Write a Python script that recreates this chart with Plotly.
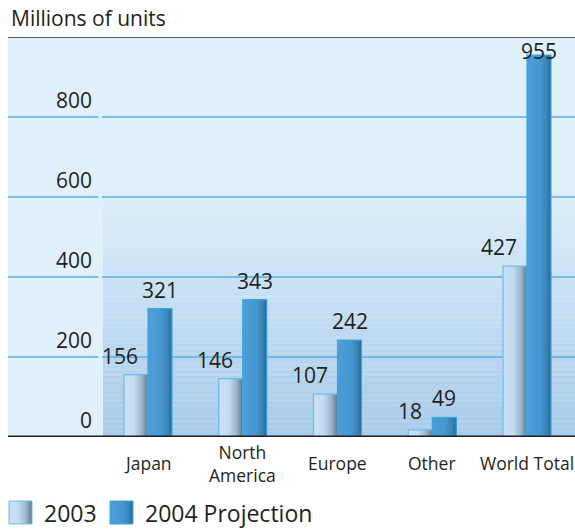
import plotly.graph_objects as go

# ---- data -------------------------------------------------------------
categories = ["Japan", "North<br>America", "Europe", "Other", "World Total"]
units_2003 = [156, 146, 107, 18, 427]
units_2004 = [321, 343, 242, 49, 955]
y_ticks = [0, 200, 400, 600, 800]
series_names = ["2003", "2004 Projection"]

# ---- geometry ---------------------------------------------------------
W, H = 575, 529
ML, MR, MT, MB = 8, 0, 37, 92
PW = W - ML - MR
PH = H - MT - MB
Y_MAX = 1000
STEP = 94.75          # pixels between category centres
X0_PX = 148           # pixel centre of the first category
BAR_W = 24 / STEP     # width of one bar in axis units
x_range = [(ML - X0_PX) / STEP, (W - MR - X0_PX) / STEP]

FONT = "Open Sans"
INK = "#231f20"
BG_LIGHT = (0xe1, 0xf1, 0xfb)
BG_DARK = (0xa8, 0xca, 0xe9)
GRID = "#5aaee3"


def ax_x(px):
    return (px - X0_PX) / STEP


def paper_x(px):
    return (px - ML) / PW


def paper_y(py):
    return (H - MB - py) / PH


def hex2rgb(h):
    h = h.lstrip("#")
    return tuple(int(h[i:i + 2], 16) for i in (0, 2, 4))


def mix(c0, c1, t):
    return tuple(round(a + (b - a) * t) for a, b in zip(c0, c1))


def css(c):
    return "rgb(%d,%d,%d)" % c


def ramp(stops, t):
    for (t0, c0), (t1, c1) in zip(stops, stops[1:]):
        if t <= t1:
            return mix(hex2rgb(c0), hex2rgb(c1), (t - t0) / (t1 - t0) if t1 > t0 else 0)
    return hex2rgb(stops[-1][1])


# horizontal shading of each bar (left -> right)
shade_2003 = [(0.0, "#cde1f4"), (0.42, "#c4dbf0"), (0.75, "#9ab5ca"), (1.0, "#5b7a8f")]
shade_2004 = [(0.0, "#4d9ed8"), (0.55, "#4696cf"), (0.82, "#3a84b7"), (1.0, "#256b93")]
edge_2003 = "#69bdea"
edge_2004 = "#3aa7df"

series = [
    (units_2003, -BAR_W, shade_2003, edge_2003),
    (units_2004, 0.0, shade_2004, edge_2004),
]

fig = go.Figure()
idx = list(range(len(categories)))
K = 24
for vals, off, stops, edge in series:
    for k in range(K):
        s = k / K * BAR_W
        fig.add_trace(go.Bar(
            x=idx, y=vals, offset=off + s, width=BAR_W - s,
            marker=dict(color=css(ramp(stops, (k + 0.5) / K)), line=dict(width=0)),
            showlegend=False, hoverinfo="skip",
        ))
    fig.add_trace(go.Bar(
        x=idx, y=vals, offset=off, width=BAR_W,
        marker=dict(color="rgba(0,0,0,0)", line=dict(color=edge, width=1.2)),
        showlegend=False, hoverinfo="skip",
    ))

shapes = []
# shaded backdrop behind the bars
NB = 50
top_val = 650
grad_x0 = ax_x(103)
for i in range(NB):
    y0 = top_val * i / NB
    y1 = top_val * (i + 1) / NB
    t = 1 - (i + 0.5) / NB
    shapes.append(dict(type="rect", layer="below", xref="x", yref="y",
                       x0=grad_x0, x1=x_range[1], y0=y0, y1=y1,
                       fillcolor=css(mix(BG_LIGHT, BG_DARK, t)), line=dict(width=0)))
# gridlines, broken beside the tick labels
for v in y_ticks[1:]:
    for xa, xb in ((x_range[0], ax_x(98.5)), (ax_x(102), x_range[1])):
        shapes.append(dict(type="line", layer="below", xref="x", yref="y",
                           x0=xa, x1=xb, y0=v, y1=v, line=dict(color=GRID, width=1.5)))
# frame top and baseline
shapes.append(dict(type="line", xref="paper", yref="y", x0=0, x1=1, y0=Y_MAX, y1=Y_MAX,
                   line=dict(color=INK, width=1.5)))
shapes.append(dict(type="line", xref="paper", yref="y", x0=0, x1=1, y0=0, y1=0,
                   line=dict(color=INK, width=3)))

annotations = []
annotations.append(dict(text="Millions of units", xref="paper", yref="paper",
                        x=paper_x(9), y=paper_y(18), xanchor="left", yanchor="middle",
                        showarrow=False, font=dict(family=FONT, size=21, color=INK)))
for v in y_ticks:
    annotations.append(dict(text=str(v), xref="x", yref="y", x=ax_x(94), y=v,
                            xanchor="right", yanchor="bottom", yshift=1, showarrow=False,
                            font=dict(family=FONT, size=21, color=INK)))
for i, c in enumerate(categories):
    annotations.append(dict(text=c, xref="x", yref="paper", x=i, y=paper_y(463),
                            xanchor="center", yanchor="middle", showarrow=False,
                            font=dict(family=FONT, size=17.5, color=INK)))
# value labels
for i, v in enumerate(units_2003):
    annotations.append(dict(text=str(v), xref="x", yref="y", x=i - BAR_W / 2, y=v,
                            xanchor="right", yanchor="bottom", xshift=4, yshift=3,
                            showarrow=False, font=dict(family=FONT, size=21, color=INK)))
for i, v in enumerate(units_2004):
    label_y = min(v, Y_MAX - 83)
    annotations.append(dict(text=str(v), xref="x", yref="y", x=i + BAR_W / 2, y=label_y,
                            xanchor="center", yanchor="bottom", yshift=3,
                            showarrow=False, font=dict(family=FONT, size=21, color=INK)))

# legend
legend_items = [(series_names[0], 9, shade_2003, edge_2003, 42),
                (series_names[1], 110, shade_2004, edge_2004, 143)]
SQ = 23
ly0, ly1 = 501, 524
for name, sx, stops, edge, tx in legend_items:
    for k in range(K):
        shapes.append(dict(type="rect", xref="paper", yref="paper",
                           x0=paper_x(sx + SQ * k / K), x1=paper_x(sx + SQ),
                           y0=paper_y(ly1), y1=paper_y(ly0),
                           fillcolor=css(ramp(stops, (k + 0.5) / K)), line=dict(width=0)))
    shapes.append(dict(type="rect", xref="paper", yref="paper",
                       x0=paper_x(sx), x1=paper_x(sx + SQ), y0=paper_y(ly1), y1=paper_y(ly0),
                       line=dict(color=edge, width=1)))
    annotations.append(dict(text=name, xref="paper", yref="paper", x=paper_x(tx),
                            y=paper_y(513), xanchor="left", yanchor="middle", showarrow=False,
                            font=dict(family=FONT, size=23, color=INK)))

fig.update_layout(
    width=W, height=H, autosize=False,
    margin=dict(l=ML, r=MR, t=MT, b=MB, pad=0),
    barmode="overlay",
    paper_bgcolor="white", plot_bgcolor=css(BG_LIGHT),
    showlegend=False,
    xaxis=dict(range=x_range, showgrid=False, zeroline=False, showticklabels=False,
               fixedrange=True),
    yaxis=dict(range=[0, Y_MAX], showgrid=False, zeroline=False, showticklabels=False,
               fixedrange=True),
    shapes=shapes, annotations=annotations,
    font=dict(family=FONT, color=INK),
)

fig.write_html("out.html", config={"displayModeBar": False})
